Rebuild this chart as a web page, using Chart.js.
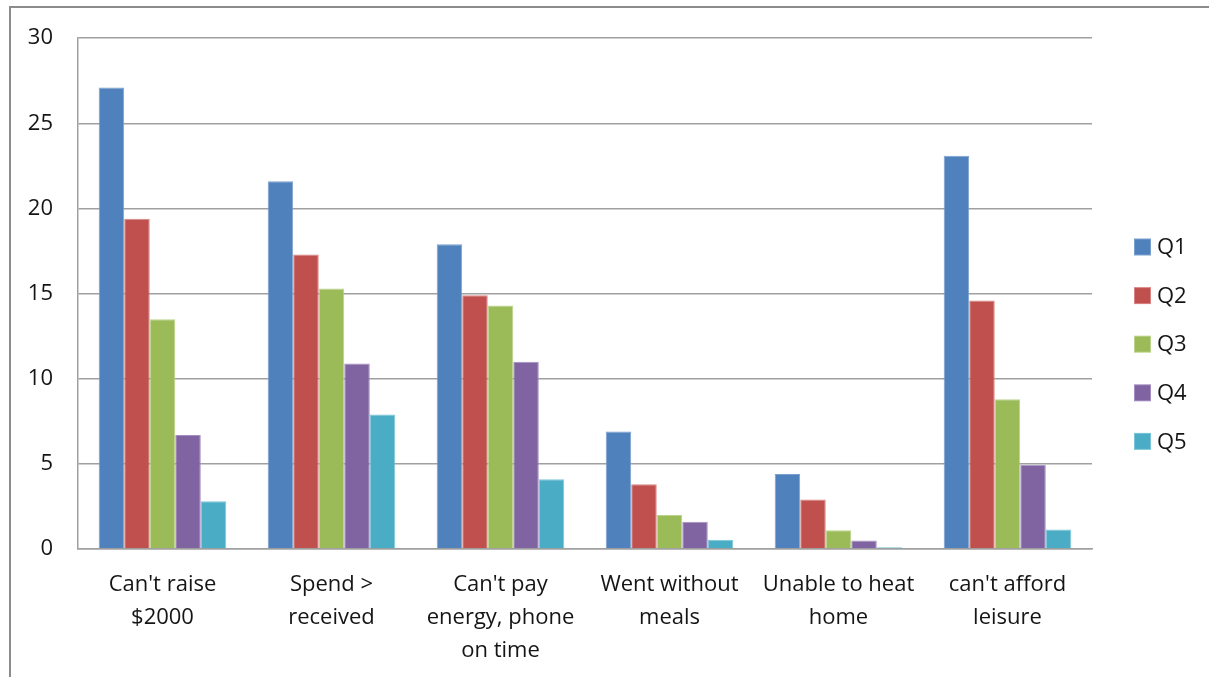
<!DOCTYPE html>
<html>
<head>
<meta charset="utf-8">
<script src="https://cdn.jsdelivr.net/npm/chart.js@4/dist/chart.umd.min.js"></script>
<style>
  html, body { margin: 0; padding: 0; background: #fff; overflow: hidden; }
  #wrap { position: relative; width: 1209px; height: 677px; }
  #frame {
    position: absolute; left: 9px; top: 6px; width: 1300px; height: 800px;
    border-left: 2px solid #8c8c8c; border-top: 2px solid #8c8c8c;
    pointer-events: none;
  }
  canvas { position: absolute; left: 0; top: 0; }
</style>
</head>
<body>
<div id="wrap">
  <div id="frame"></div>
  <canvas id="chart" width="1209" height="677"></canvas>
</div>
<script>
// Categories (multi-line labels) and quintile series
const categories = [
  ["Can't raise", "$2000"],
  ["Spend >", "received"],
  ["Can't pay", "energy, phone", "on time"],
  ["Went without", "meals"],
  ["Unable to heat", "home"],
  ["can't afford", "leisure"]
];
const seriesNames = ["Q1", "Q2", "Q3", "Q4", "Q5"];
const q1 = [27.1, 21.6, 17.9, 6.9, 4.4, 23.1];
const q2 = [19.4, 17.3, 14.9, 3.8, 2.9, 14.6];
const q3 = [13.5, 15.3, 14.3, 2.0, 1.1, 8.8];
const q4 = [6.7, 10.9, 11.0, 1.6, 0.5, 4.95];
const q5 = [2.8, 7.9, 4.1, 0.55, 0.1, 1.15];
const yTicks = [0, 5, 10, 15, 20, 25, 30];

const fills   = ["#4f81bd", "#c0504d", "#9bbb59", "#8064a2", "#4bacc6"];
const borders = ["#7aa0d0", "#d88583", "#bcd48c", "#a58fc2", "#7cc5d8"];
const FONT = "'Open Sans', 'Liberation Sans', sans-serif";
const TEXT = '#151515';

const datasets = [q1, q2, q3, q4, q5].map((vals, i) => ({
  label: seriesNames[i],
  data: vals,
  backgroundColor: fills[i],
  borderColor: borders[i],
  borderWidth: 1,
  categoryPercentage: 0.755,
  barPercentage: 1.0
}));

// Legend drawn at the right, one square swatch per series
const sideLegend = {
  id: 'sideLegend',
  afterDraw(chart) {
    const ctx = chart.ctx;
    const x = 1134, box = 17, firstY = 247, step = 48.6;
    ctx.save();
    ctx.font = "22px " + FONT;
    ctx.textBaseline = 'middle';
    chart.data.datasets.forEach((ds, i) => {
      const cy = firstY + i * step;
      ctx.fillStyle = ds.borderColor;
      ctx.fillRect(x, cy - box / 2, box, box);
      ctx.fillStyle = ds.backgroundColor;
      ctx.fillRect(x + 1, cy - box / 2 + 1, box - 2, box - 2);
      ctx.fillStyle = TEXT;
      ctx.fillText(ds.label, x + box + 6, cy + 1);
    });
    ctx.restore();
  }
};

new Chart(document.getElementById('chart'), {
  type: 'bar',
  data: { labels: categories, datasets },
  plugins: [sideLegend],
  options: {
    responsive: false,
    animation: false,
    layout: { padding: { top: 37, right: 117, left: 0, bottom: 0 } },
    plugins: { legend: { display: false }, tooltip: { enabled: false } },
    scales: {
      x: {
        grid: { display: false, drawTicks: false },
        border: { display: true, color: '#a0a0a0', width: 1.5 },
        ticks: {
          color: TEXT,
          font: { family: FONT, size: 22, lineHeight: 1.5 },
          padding: 19,
          maxRotation: 0,
          autoSkip: false
        },
        afterFit(scale) { scale.height = 128; }
      },
      y: {
        min: 0,
        max: 30,
        afterBuildTicks(scale) { scale.ticks = yTicks.map(v => ({ value: v })); },
        grid: { color: '#a0a0a0', lineWidth: 1.5, drawTicks: false },
        border: { display: true, color: '#a0a0a0', width: 1.5 },
        ticks: {
          color: TEXT,
          font: { family: FONT, size: 22 },
          padding: 25
        },
        afterFit(scale) { scale.width = 78; }
      }
    }
  }
});
</script>
</body>
</html>
